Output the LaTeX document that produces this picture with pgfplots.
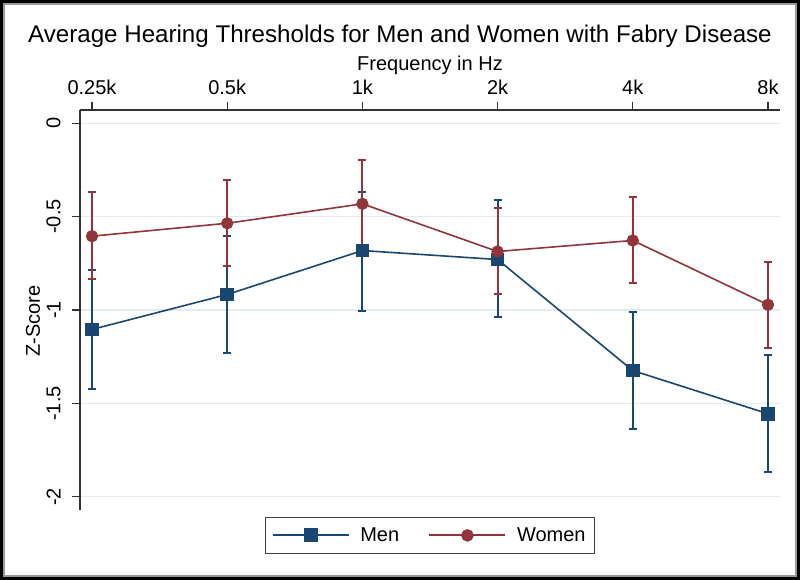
\documentclass[border=0pt]{standalone}
\usepackage{fontspec}
\setmainfont{Liberation Sans}
\usepackage{pgfplots}
\pgfplotsset{compat=1.18}
\definecolor{menc}{HTML}{1A476F}
\definecolor{womc}{HTML}{90353B}
\definecolor{gridc}{HTML}{E4EBEF}

\pgfplotstableread{
x y ep em
0 -1.104 0.319 0.316
1 -0.917 0.314 0.312
2 -0.682 0.312 0.321
3 -0.730 0.316 0.308
4 -1.324 0.312 0.315
5 -1.555 0.315 0.312
}\men
\pgfplotstableread{
x y ep em
0 -0.605 0.235 0.228
1 -0.536 0.234 0.231
2 -0.432 0.232 0.232
3 -0.687 0.234 0.230
4 -0.628 0.230 0.229
5 -0.972 0.228 0.232
}\women

\begin{document}
\begin{tikzpicture}
\path[use as bounding box] (0,0) rectangle (600pt,-435pt);
\begin{axis}[
  at={(60pt,-82.5pt)}, anchor=north west,
  width=525pt, height=300pt, scale only axis,
  xmin=-0.089, xmax=5.089, ymin=-2.07, ymax=0.07,
  axis x line*=top, axis y line*=left,
  axis line style={line width=0.8pt, black!80, -},
  xtick={0,1,2,3,4,5}, xticklabels={0.25k,0.5k,1k,2k,4k,8k},
  ytick={-2,-1.5,-1,-0.5,0}, yticklabels={-2,-1.5,-1,-0.5,0},
  tick align=outside, major tick length=6pt,
  tick style={line width=0.8pt, black!80},
  ymajorgrids, grid style={gridc, line width=0.8pt},
  ticklabel style={font=\fontsize{15}{18}\selectfont},
  yticklabel style={rotate=90, anchor=south},
  yticklabel shift=5pt, xticklabel shift=2pt,
  legend style={at={(0.5,0)}, anchor=north, yshift=-5.25pt, legend columns=2,
    draw=black!75, line width=0.8pt, font=\fontsize{15}{18}\selectfont,
    inner xsep=5pt, inner ysep=5.5pt,
    /tikz/every odd column/.append style={column sep=6pt},
    /tikz/every even column/.append style={column sep=20pt}},
  legend image code/.code={\draw[#1, line width=1.4pt, mark repeat=2, mark phase=2] plot coordinates {(0pt,0pt) (28.5pt,0pt) (57pt,0pt)};},
]
\addplot[menc, line width=1.2pt, mark=square*, mark size=4.5pt, mark options={solid, fill=menc},
  error bars/.cd, y dir=both, y explicit,
  error bar style={line width=1.5pt, menc, solid},
  error mark options={rotate=90, mark size=3pt, line width=1.5pt, menc}]
  table[x=x, y=y, y error plus=ep, y error minus=em] {\men};
\addlegendentry{Men}
\addplot[womc, line width=1.2pt, mark=*, mark size=4pt, mark options={solid, fill=womc},
  error bars/.cd, y dir=both, y explicit,
  error bar style={line width=1.5pt, womc, solid},
  error mark options={rotate=90, mark size=3pt, line width=1.5pt, womc}]
  table[x=x, y=y, y error plus=ep, y error minus=em] {\women};
\addlegendentry{Women}
\end{axis}
\node[anchor=base] at (300pt,-32pt) {\fontsize{18.1}{21}\selectfont Average Hearing Thresholds for Men and Women with Fabry Disease};
\node[anchor=base] at (322.5pt,-53.25pt) {\fontsize{15}{18}\selectfont Frequency in Hz};
\node[rotate=90] at (24.75pt,-240.75pt) {\fontsize{15}{18}\selectfont Z-Score};
\draw[line width=2.4pt, black] (1.2pt,-1.2pt) rectangle (598.8pt,-433.8pt);
\draw[line width=1pt, black!40] (2.9pt,-2.9pt) rectangle (597.1pt,-432.1pt);
\end{tikzpicture}
\end{document}
